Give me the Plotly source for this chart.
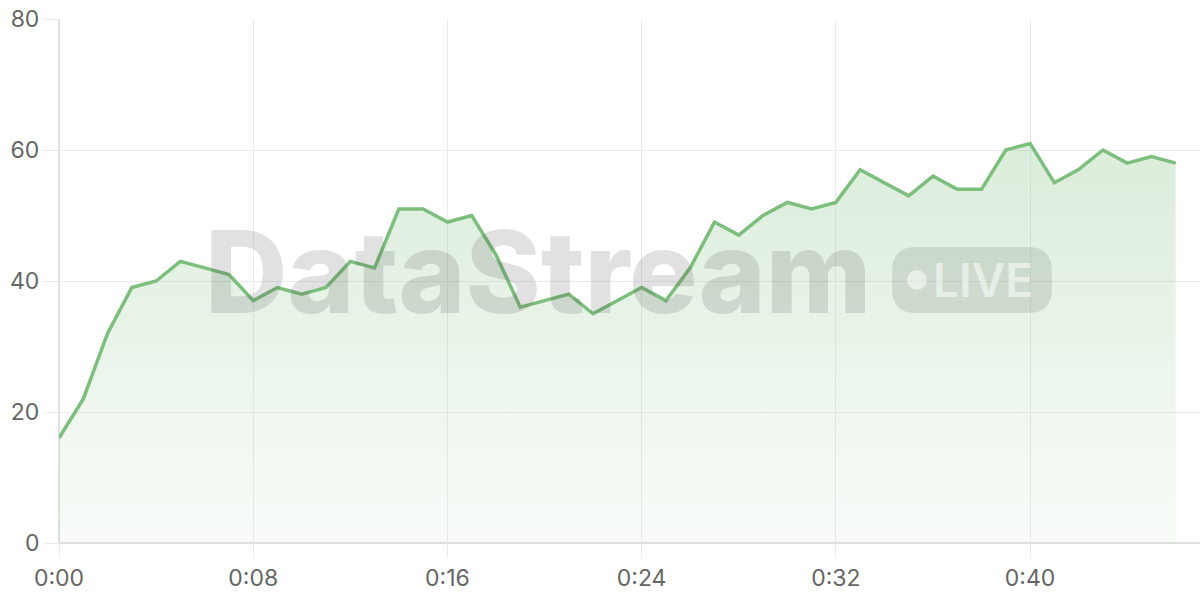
import plotly.graph_objects as go

# ---- data ----
seconds = list(range(47))
values = [16, 22, 32, 39, 40, 43, 42, 41, 37, 39, 38, 39, 43, 42, 51, 51, 49, 50, 44, 36,
          37, 38, 35, 37, 39, 37, 42, 49, 47, 50, 52, 51, 52, 57, 55, 53, 56, 54, 54, 60,
          61, 55, 57, 60, 58, 59, 58]
x_tick_vals = [0, 8, 16, 24, 32, 40]
x_tick_text = ["0:00", "0:08", "0:16", "0:24", "0:32", "0:40"]
y_tick_vals = [0, 20, 40, 60, 80]

W, H = 1200, 600
L, R, T, B = 59, 0, 19, 57
XMAX, YMAX = 47, 80
pw, ph = W - L - R, H - T - B


def px2x(px):
    return (px - L) / pw * XMAX


def px2y(py):
    return (H - B - py) / ph * YMAX


LINE = "rgb(124,190,124)"
GRID = "#ebebeb"
AXIS = "#d6d6d6"
TXT = "#666666"
FONT = "Inter, Liberation Sans, sans-serif"

fig = go.Figure()
fig.add_trace(go.Scatter(
    x=seconds, y=values, mode="lines",
    line=dict(color=LINE, width=3.5),
    fill="tozeroy",
    fillgradient=dict(type="vertical", start=0, stop=62,
                      colorscale=[[0, "rgba(124,190,124,0.05)"],
                                  [1, "rgba(124,190,124,0.28)"]]),
    hoverinfo="skip", showlegend=False,
))

# watermark
shapes = []
x0, x1, y0, y1 = 892, 1052, 247, 313
r = 24
rx = px2x(x0 + r) - px2x(x0)
ry = px2y(y0) - px2y(y0 + r)
X0, X1, Y0, Y1 = px2x(x0), px2x(x1), px2y(y1), px2y(y0)
path = (f"M {X0+rx},{Y0} L {X1-rx},{Y0} Q {X1},{Y0} {X1},{Y0+ry} "
        f"L {X1},{Y1-ry} Q {X1},{Y1} {X1-rx},{Y1} L {X0+rx},{Y1} "
        f"Q {X0},{Y1} {X0},{Y1-ry} L {X0},{Y0+ry} Q {X0},{Y0} {X0+rx},{Y0} Z")
shapes.append(dict(type="path", path=path, xref="x", yref="y",
                   fillcolor="rgba(70,80,70,0.15)", line=dict(width=0), layer="above"))
shapes.append(dict(type="circle", xref="x", yref="y",
                   x0=px2x(907), x1=px2x(927), y0=px2y(290), y1=px2y(270),
                   fillcolor="rgba(255,255,255,0.55)", line=dict(width=0), layer="above"))

annotations = [
    dict(text="DataStream", x=px2x(538), y=px2y(271), xref="x", yref="y",
         showarrow=False, xanchor="center", yanchor="middle",
         font=dict(family=FONT, size=114, weight=800,
                   color="rgba(70,70,70,0.16)")),
    dict(text="LIVE", x=px2x(983), y=px2y(280), xref="x", yref="y",
         showarrow=False, xanchor="center", yanchor="middle",
         font=dict(family=FONT, size=46, weight=600,
                   color="rgba(255,255,255,0.55)")),
]

fig.update_layout(
    width=W, height=H,
    margin=dict(l=L, r=R, t=T, b=B, pad=0, autoexpand=False),
    paper_bgcolor="white", plot_bgcolor="white",
    font=dict(family=FONT, size=23, color=TXT),
    shapes=shapes, annotations=annotations,
    xaxis=dict(range=[0, XMAX], tickvals=x_tick_vals, ticktext=x_tick_text,
               showgrid=True, gridcolor=GRID, gridwidth=1, automargin=False,
               ticks="outside", ticklen=14, tickcolor=GRID,
               showline=False, zeroline=False, fixedrange=True,
               tickfont=dict(size=23, color=TXT)),
    yaxis=dict(range=[0, YMAX], tickvals=y_tick_vals,
               showgrid=True, gridcolor=GRID, gridwidth=1, automargin=False,
               ticks="outside", ticklen=14, tickcolor=GRID,
               showline=False, zeroline=False, fixedrange=True,
               tickfont=dict(size=23, color=TXT)),
)
# axis borders (left and bottom) in slightly darker gray
fig.add_shape(type="line", xref="paper", yref="paper", x0=0, x1=0, y0=0, y1=1,
              line=dict(color=AXIS, width=1.5), layer="below")
fig.add_shape(type="line", xref="paper", yref="paper", x0=0, x1=1, y0=0, y1=0,
              line=dict(color=AXIS, width=1.5), layer="below")

fig.write_html("out.html", config={"displayModeBar": False},
               post_script="document.body.style.margin='0';document.body.style.overflow='hidden';")
